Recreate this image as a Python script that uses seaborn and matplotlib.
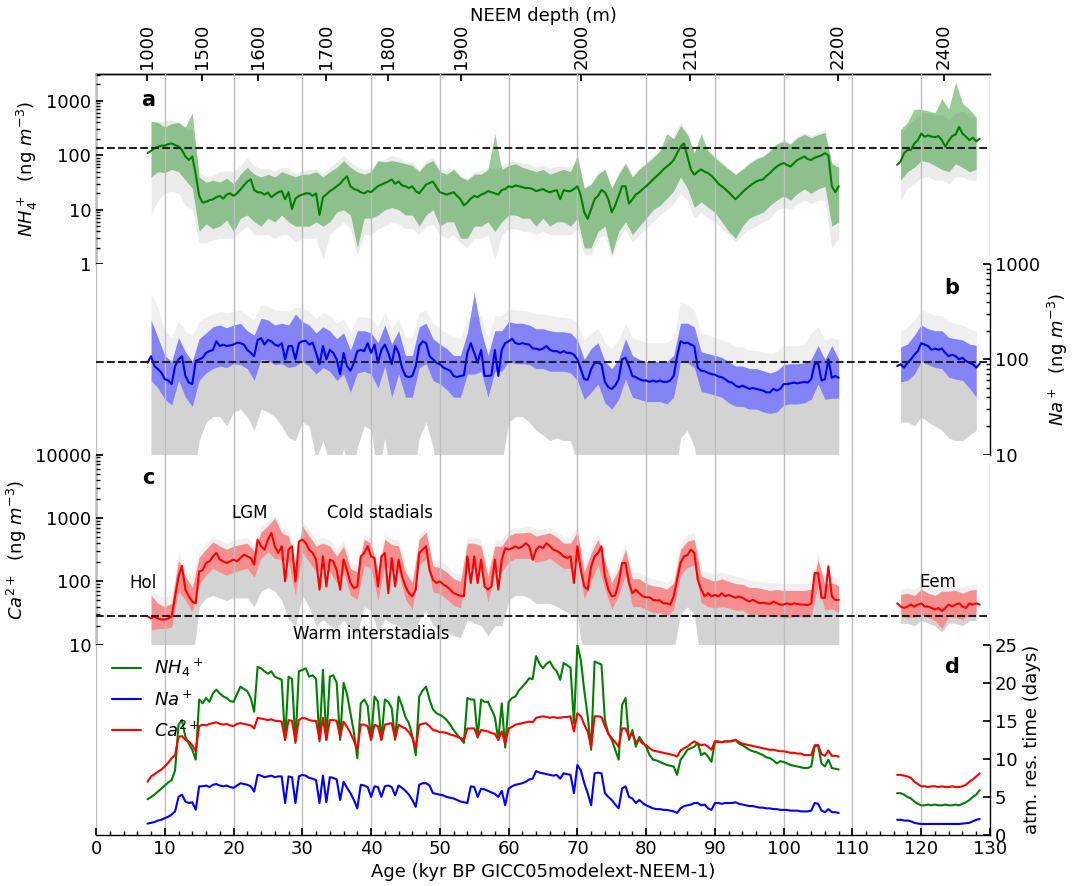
import numpy as np
import matplotlib
matplotlib.use("Agg")
import matplotlib.pyplot as plt
import matplotlib.ticker as mticker
import seaborn as sns

# ---------------- age grids (kyr BP) ----------------
AGE_GLACIAL = np.arange(7.5, 108.01, 0.5)      # 202 points for lines
AGE_EEM = np.arange(116.5, 128.51, 0.5)        # 25 points for lines
BAND_AGE_GLACIAL = np.arange(8, 108.01, 1.0)   # 101 points for envelopes
BAND_AGE_EEM = np.arange(117, 128.01, 1.0)     # 12 points for envelopes

DEPTH_LABELS = [1000, 1500, 1600, 1700, 1800, 1900, 2000, 2100, 2200, 2400]
DEPTH_AGES = [7.45, 15.45, 23.55, 33.4, 42.45, 53.05, 70.55, 86.4, 107.9, 123.3]

# ---------------- NH4+ (panel a) ----------------
nh4_glacial = [110, 120, 135, 144, 150, 150, 160, 165, 155, 145,
               125, 95, 82, 95, 45, 18, 13.5, 14, 15, 15.5,
               17, 18, 16, 19, 20, 18, 20, 23.5, 28, 33,
               36, 23, 21, 20.7, 19, 20.7, 17, 19, 21, 22,
               15.6, 21, 10.3, 16, 18, 19, 20, 20, 18, 20,
               8, 17, 19, 22, 24, 27, 30, 36, 41, 27,
               24, 23, 21, 20, 22, 21, 24, 27, 29, 31,
               33, 36, 30, 33, 28, 27, 25, 27, 22, 20,
               24, 29, 31, 33, 26, 21, 20, 19, 20, 21,
               18, 15.6, 12, 13.6, 16, 18, 17, 19, 20, 22,
               21, 20, 19, 23, 24, 27, 26, 28, 27, 26,
               25, 25, 24, 22, 23, 24, 22, 21, 22, 23,
               15.6, 23, 22, 22, 24, 27, 18, 9, 6.8, 10.3,
               15.6, 18, 23, 21, 15.6, 9, 12, 18, 27, 27,
               13, 15.6, 19, 21, 24, 27, 31, 36, 41, 47,
               55, 62, 70, 82, 109, 144, 165, 95, 55, 44,
               50, 55, 50, 47, 42, 36, 30, 27, 24, 21,
               18, 15.6, 18, 21, 24, 27, 30, 33, 35, 36,
               42, 47, 55, 62, 68, 72, 66, 62, 72, 82,
               88, 95, 85, 82, 90, 95, 100, 109, 100, 27,
               21, 27]
nh4_eem = [67, 77, 109, 125, 125, 165, 189, 250, 218, 232,
           220, 215, 225, 190, 144, 185, 225, 240, 330, 250,
           220, 189, 210, 180, 200]
nh4_lo_glacial = [40, 50, 48, 55, 50, 35, 25, 4, 5.5, 4.5,
                  5, 6.5, 4, 7, 8, 6, 5, 7, 6, 8,
                  6, 5, 5, 5, 6, 5, 6, 9, 10, 8,
                  2, 7, 7, 8, 10, 11, 10, 8, 8, 5,
                  8, 10, 5, 6, 6, 3, 3, 5, 5, 6,
                  4, 6, 8, 8, 7, 7, 5, 7, 5, 6,
                  6, 5, 7, 2, 2, 4, 5, 1.5, 4, 6,
                  3.5, 5, 7, 10, 12, 16, 22, 40, 25, 11,
                  14, 11, 9, 6, 4, 3, 5, 7, 8, 9,
                  12, 15, 18, 15, 20, 24, 20, 24, 27, 5,
                  6]
nh4_hi_glacial = [420, 400, 330, 380, 400, 330, 600, 40, 32, 35,
                  32, 38, 30, 45, 60, 45, 40, 45, 40, 50,
                  45, 40, 45, 45, 50, 40, 50, 60, 80, 60,
                  50, 45, 50, 80, 75, 80, 75, 70, 65, 50,
                  70, 80, 50, 45, 55, 40, 35, 45, 45, 55,
                  250, 55, 65, 70, 60, 55, 50, 55, 45, 50,
                  55, 50, 100, 25, 30, 45, 55, 25, 45, 70,
                  40, 55, 70, 90, 120, 250, 200, 350, 240, 110,
                  250, 120, 90, 70, 55, 45, 55, 70, 85, 95,
                  120, 160, 180, 160, 210, 240, 210, 240, 260, 70,
                  60]
nh4_lo_eem = [35, 50, 60, 80, 75, 65, 55, 50, 70, 60, 50, 55]
nh4_hi_eem = [300, 400, 700, 700, 650, 600, 1100, 700, 2200, 900, 700, 500]
nh4_glo_glacial = [8, 15, 20, 22, 20, 12, 10, 2.5, 2.5, 2.8,
                   3, 3, 3, 4, 5, 3.5, 3.5, 3.5, 3, 3.5,
                   3.5, 2.5, 3, 3, 3, 1.2, 3.5, 4.5, 6, 4.5,
                   1.5, 3.5, 3.5, 4.5, 5, 6, 5.5, 4.5, 4.5, 3.5,
                   5, 5.5, 3.5, 3, 3.5, 2.5, 2, 3, 3, 3.5,
                   1.2, 3.5, 4.5, 4.5, 4, 4, 3.5, 4, 3.5, 3.5,
                   3.5, 3.5, 4.5, 1.5, 1.5, 3, 3.5, 1.3, 3, 4.5,
                   2.5, 3.5, 4.5, 6, 8, 10, 13, 20, 15, 7,
                   9, 7, 6, 4.5, 3.5, 2.5, 3.5, 4.5, 5, 6,
                   7, 10, 11, 10, 13, 15, 13, 15, 15, 2,
                   3]
nh4_ghi_glacial = [400, 420, 420, 450, 400, 300, 300, 50, 40, 42,
                   50, 52, 50, 65, 90, 63, 57, 57, 52, 60,
                   58, 45, 52, 55, 55, 47, 60, 75, 100, 75,
                   63, 55, 58, 75, 85, 100, 90, 75, 75, 55,
                   80, 90, 58, 52, 58, 43, 38, 50, 52, 60,
                   55, 63, 75, 77, 72, 70, 60, 66, 58, 63,
                   63, 60, 75, 25, 28, 50, 58, 25, 50, 75,
                   43, 58, 75, 100, 130, 170, 230, 400, 260, 120,
                   150, 130, 100, 75, 58, 43, 58, 75, 90, 100,
                   130, 170, 200, 170, 230, 260, 230, 260, 300, 75,
                   75]
nh4_glo_eem = [15, 25, 30, 40, 40, 35, 35, 30, 40, 40, 35, 35]
nh4_ghi_eem = [250, 350, 450, 600, 600, 550, 550, 450, 600, 650, 500, 500]

# ---------------- Na+ (panel b) ----------------
na_glacial = [92, 108, 85, 79, 73, 62, 60, 55, 85, 100,
              108, 67, 57, 55, 96, 100, 104, 117, 122, 126,
              155, 138, 143, 138, 140, 143, 150, 148, 143, 126,
              117, 108, 160, 167, 143, 160, 155, 143, 138, 148,
              100, 138, 138, 100, 148, 155, 157, 143, 150, 117,
              89, 138, 100, 126, 117, 100, 70, 117, 85, 76,
              92, 122, 126, 122, 148, 117, 143, 92, 126, 143,
              117, 89, 138, 117, 82, 67, 65, 67, 85, 138,
              155, 148, 108, 100, 92, 89, 82, 79, 76, 67,
              65, 67, 68, 117, 148, 117, 92, 126, 67, 67,
              68, 126, 67, 126, 148, 155, 165, 148, 145, 148,
              145, 143, 130, 130, 126, 130, 138, 126, 122, 122,
              117, 122, 117, 117, 112, 100, 79, 62, 61, 79,
              92, 92, 89, 58, 51, 49, 53, 62, 100, 104,
              85, 67, 65, 62, 60, 60, 58, 60, 58, 60,
              58, 58, 60, 67, 108, 155, 148, 150, 143, 138,
              82, 76, 75, 72, 70, 69, 66, 65, 62, 58,
              57, 53, 51, 53, 51, 49, 50, 49, 48, 47,
              45, 45, 49, 47, 49, 55, 55, 56, 57, 56,
              57, 58, 57, 62, 89, 92, 60, 62, 100, 64,
              67, 64]
na_eem = [85, 89, 82, 92, 100, 112, 122, 148, 143, 138,
          126, 130, 126, 130, 117, 108, 112, 108, 100, 104,
          96, 92, 89, 82, 90]
na_lo_glacial = [60, 50, 38, 33, 60, 40, 32, 60, 72, 80,
                 85, 82, 90, 88, 80, 60, 100, 98, 88, 90,
                 82, 85, 95, 85, 70, 82, 75, 60, 70, 45,
                 72, 75, 70, 50, 85, 40, 70, 40, 40, 82,
                 90, 60, 55, 48, 40, 40, 70, 70, 75, 40,
                 75, 75, 95, 90, 90, 88, 80, 80, 75, 75,
                 75, 72, 60, 38, 45, 55, 35, 30, 38, 62,
                 40, 38, 36, 36, 36, 34, 40, 95, 92, 82,
                 46, 44, 42, 40, 35, 32, 32, 30, 30, 28,
                 27, 28, 33, 34, 34, 35, 38, 55, 38, 39,
                 39]
na_hi_glacial = [260, 170, 110, 95, 170, 120, 95, 165, 190, 220,
                 230, 215, 230, 240, 200, 180, 270, 260, 230, 240,
                 230, 300, 250, 230, 190, 220, 200, 165, 190, 125,
                 200, 200, 190, 150, 230, 145, 200, 110, 110, 220,
                 240, 165, 145, 130, 110, 110, 190, 500, 200, 110,
                 200, 200, 250, 240, 240, 230, 210, 210, 200, 195,
                 195, 190, 160, 100, 130, 150, 95, 80, 100, 165,
                 110, 100, 95, 95, 95, 95, 110, 240, 240, 220,
                 120, 115, 110, 105, 95, 85, 85, 80, 80, 76,
                 72, 76, 88, 90, 90, 92, 100, 140, 100, 140,
                 100]
na_lo_eem = [58, 60, 70, 95, 88, 82, 80, 65, 62, 60, 50, 40]
na_hi_eem = [135, 145, 180, 230, 210, 200, 200, 170, 165, 160, 145, 140]
na_glo_glacial = [5, 5, 5, 5, 5, 5, 5, 14, 22, 25,
                  25, 20, 28, 30, 25, 18, 30, 28, 25, 20,
                  15, 14, 22, 20, 9, 14, 8, 5, 12, 5,
                  12, 20, 18, 6, 15, 5, 10, 5, 5, 15,
                  22, 12, 5, 5, 5, 5, 8, 10, 8, 5,
                  5, 8, 22, 25, 25, 22, 18, 16, 14, 15,
                  14, 14, 8, 5, 5, 6, 5, 5, 5, 6,
                  5, 5, 5, 5, 5, 5, 5, 15, 18, 12,
                  5, 5, 5, 5, 5, 5, 5, 5, 5, 5,
                  5, 5, 5, 5, 5, 5, 5, 5, 5, 5,
                  5]
na_ghi_glacial = [500, 350, 200, 170, 250, 200, 180, 250, 280, 300,
                  320, 310, 320, 330, 290, 260, 380, 360, 330, 330,
                  320, 350, 350, 320, 270, 310, 290, 240, 270, 190,
                  280, 280, 270, 220, 320, 210, 270, 170, 170, 310,
                  330, 240, 210, 190, 170, 170, 270, 280, 290, 170,
                  290, 290, 340, 330, 330, 320, 300, 300, 290, 280,
                  280, 270, 240, 160, 190, 210, 150, 130, 160, 240,
                  170, 160, 150, 150, 150, 150, 170, 400, 380, 330,
                  190, 180, 170, 160, 150, 135, 135, 125, 125, 120,
                  115, 120, 140, 140, 140, 145, 190, 220, 160, 170,
                  160]
na_glo_eem = [22, 22, 20, 25, 22, 20, 18, 15, 14, 14, 16, 18]
na_ghi_eem = [200, 220, 260, 330, 310, 290, 290, 250, 240, 230, 210, 200]

# ---------------- Ca2+ (panel c) ----------------
ca_glacial = [28, 26, 28, 26, 25, 25, 26, 28, 58, 120,
              175, 74, 58, 48, 45, 143, 150, 195, 207, 247,
              280, 220, 207, 195, 207, 220, 207, 233, 263, 247,
              233, 184, 455, 357, 316, 455, 580, 357, 280, 357,
              100, 316, 357, 100, 425, 455, 400, 316, 280, 220,
              74, 247, 83, 220, 207, 150, 74, 220, 150, 94,
              78, 83, 247, 280, 357, 247, 233, 83, 247, 280,
              65, 233, 83, 220, 120, 83, 65, 58, 74, 280,
              316, 357, 150, 106, 94, 100, 89, 83, 74, 65,
              62, 59, 58, 247, 94, 247, 94, 220, 83, 74,
              83, 220, 74, 220, 333, 316, 333, 357, 333, 357,
              400, 357, 220, 316, 357, 333, 400, 357, 316, 300,
              280, 247, 233, 247, 94, 357, 150, 83, 74, 172,
              247, 280, 357, 120, 74, 58, 60, 94, 195, 195,
              94, 65, 74, 65, 58, 56, 56, 51, 50, 50,
              45, 45, 43, 58, 106, 195, 247, 260, 316, 280,
              106, 74, 58, 65, 58, 61, 58, 65, 58, 61,
              58, 55, 58, 55, 51, 48, 51, 48, 45, 46,
              45, 44, 48, 45, 43, 43, 45, 43, 45, 44,
              43, 43, 42, 45, 135, 135, 55, 55, 172, 58,
              51, 51]
ca_eem = [45, 40, 38, 40, 43, 40, 43, 45, 40, 40,
          38, 36, 38, 34, 38, 43, 40, 43, 45, 40,
          38, 45, 43, 45, 43]
ca_lo_glacial = [17, 18, 18, 19, 70, 50, 33, 90, 125, 160,
                 140, 125, 140, 150, 160, 115, 230, 290, 230, 220,
                 200, 60, 290, 200, 140, 160, 140, 95, 140, 60,
                 52, 180, 160, 50, 180, 150, 140, 52, 36, 180,
                 230, 68, 64, 52, 42, 38, 160, 160, 140, 47,
                 140, 140, 200, 230, 230, 230, 200, 210, 230, 190,
                 160, 160, 230, 52, 100, 180, 75, 36, 60, 125,
                 40, 40, 36, 32, 32, 28, 36, 125, 165, 180,
                 46, 40, 38, 40, 38, 35, 35, 30, 30, 29,
                 28, 28, 27, 27, 28, 27, 28, 85, 35, 37,
                 32]
ca_hi_glacial = [60, 45, 40, 45, 220, 120, 80, 240, 320, 420,
                 360, 320, 360, 380, 400, 300, 600, 750, 1000, 580,
                 520, 170, 750, 520, 360, 400, 360, 250, 360, 160,
                 140, 460, 400, 140, 460, 380, 360, 140, 95, 460,
                 600, 175, 165, 140, 110, 100, 400, 400, 360, 120,
                 360, 360, 520, 580, 580, 600, 520, 550, 580, 500,
                 400, 400, 600, 140, 280, 460, 200, 95, 155, 320,
                 110, 110, 92, 85, 82, 75, 95, 320, 430, 460,
                 120, 110, 100, 110, 100, 92, 90, 80, 80, 76,
                 72, 74, 72, 72, 72, 72, 75, 220, 90, 95,
                 85]
ca_lo_eem = [28, 27, 27, 30, 27, 24, 18, 28, 27, 25, 30, 30]
ca_hi_eem = [62, 65, 60, 75, 65, 60, 70, 70, 72, 65, 72, 75]
ca_glo_glacial = [5, 5, 5, 5, 5, 5, 5, 40, 55, 60,
                  55, 50, 55, 55, 55, 40, 70, 80, 70, 50,
                  25, 20, 60, 40, 20, 25, 20, 18, 25, 18,
                  15, 40, 35, 16, 25, 22, 20, 15, 14, 25,
                  35, 20, 18, 16, 14, 13, 25, 22, 20, 14,
                  20, 20, 50, 60, 60, 55, 45, 45, 45, 40,
                  35, 30, 30, 5, 5, 5, 5, 5, 5, 5,
                  5, 5, 5, 5, 5, 5, 8, 30, 40, 30,
                  5, 5, 5, 5, 5, 5, 5, 5, 5, 5,
                  5, 5, 5, 5, 5, 5, 5, 5, 5, 5,
                  5]
ca_ghi_glacial = [80, 60, 55, 60, 280, 160, 110, 300, 400, 500,
                  450, 400, 450, 470, 500, 380, 750, 900, 1100, 700,
                  650, 220, 900, 650, 450, 500, 450, 320, 450, 200,
                  180, 560, 500, 180, 560, 470, 450, 180, 120, 560,
                  700, 220, 210, 180, 140, 130, 500, 500, 450, 150,
                  450, 450, 650, 700, 700, 750, 650, 680, 700, 600,
                  500, 500, 750, 180, 350, 560, 250, 120, 200, 400,
                  140, 140, 120, 110, 105, 95, 120, 400, 550, 600,
                  150, 140, 130, 140, 130, 120, 115, 105, 100, 100,
                  95, 95, 92, 92, 92, 92, 100, 280, 120, 125,
                  110]
ca_glo_eem = [22, 22, 20, 24, 22, 20, 16, 22, 22, 20, 24, 24]
ca_ghi_eem = [75, 80, 75, 90, 80, 75, 85, 85, 88, 80, 88, 90]

# ---------------- residence times (panel d, days) ----------------
res_nh4_glacial = [4.7, 5.0, 5.3, 5.7, 6.1, 6.5, 6.9, 7.2, 8.5, 14.5,
                   15.1, 12.9, 12.0, 11.2, 9.9, 17.8, 17.3, 18.0, 17.5, 18.6,
                   19.1, 18.6, 18.2, 18.0, 17.6, 17.5, 18.5, 19.5, 19.2, 18.9,
                   18.0, 16.2, 22.1, 21.9, 21.5, 21.2, 21.5, 20.8, 20.6, 20.4,
                   12.5, 20.8, 20.5, 12.1, 21.5, 21.7, 21.9, 20.8, 21.0, 20.5,
                   12.3, 21.7, 12.5, 20.8, 21.0, 20.0, 12.5, 20.0, 18.5, 16.0,
                   13.5, 10.1, 17.3, 17.8, 17.0, 12.5, 18.2, 17.5, 12.5, 17.8,
                   17.5, 16.7, 12.5, 18.2, 17.0, 15.5, 14.7, 13.0, 10.5, 18.2,
                   19.0, 19.5, 17.8, 16.5, 16.0, 15.8, 15.5, 15.1, 14.5, 13.8,
                   13.2, 12.7, 12.1, 18.0, 17.8, 17.8, 12.8, 17.8, 17.5, 17.5,
                   16.5, 15.5, 12.5, 17.3, 11.5, 17.5, 18.0, 18.2, 19.0, 19.5,
                   20.0, 20.6, 20.5, 23.5, 22.5, 21.9, 22.5, 22.8, 22.0, 21.5,
                   20.4, 22.6, 22.3, 22.0, 14.7, 25.0, 23.0, 19.0, 15.6, 11.2,
                   22.8, 22.6, 22.4, 15.1, 13.3, 12.5, 11.2, 9.9, 17.1, 18.0,
                   12.5, 13.8, 11.6, 12.9, 12.2, 11.6, 10.5, 9.9, 9.8, 9.6,
                   9.4, 9.2, 9.1, 9.0, 7.9, 9.9, 10.5, 11.2, 11.4, 11.6,
                   12.1, 10.5, 10.8, 10.3, 9.6, 12.3, 12.3, 12.2, 12.3, 12.3,
                   12.3, 12.5, 12.0, 11.8, 11.5, 11.2, 11.0, 10.9, 10.7, 10.5,
                   10.2, 10.1, 9.8, 9.4, 9.7, 9.6, 9.4, 9.2, 9.1, 9.0,
                   8.9, 8.8, 8.8, 9.0, 11.6, 11.8, 9.4, 9.0, 9.9, 8.8,
                   8.7, 8.6]
res_nh4_eem = [5.5, 5.5, 5.3, 5.0, 4.8, 4.4, 4.1, 3.9, 3.9, 4.0,
               3.9, 4.0, 3.9, 3.9, 4.0, 3.9, 3.9, 4.0, 3.9, 4.1,
               4.3, 4.6, 5.0, 5.3, 5.9]
res_na_glacial = [1.5, 1.6, 1.7, 1.9, 2.0, 2.2, 2.4, 2.7, 3.1, 5.0,
                  5.3, 4.4, 4.2, 4.3, 3.3, 6.4, 6.4, 6.5, 6.3, 6.6,
                  6.7, 6.5, 6.4, 6.5, 6.3, 6.2, 6.5, 6.8, 6.7, 6.6,
                  6.4, 5.7, 7.9, 7.8, 7.6, 7.7, 7.8, 7.6, 7.7, 7.7,
                  4.2, 7.7, 7.6, 4.2, 7.7, 7.9, 7.8, 7.5, 7.4, 7.2,
                  4.2, 7.8, 4.3, 7.6, 7.5, 7.3, 4.6, 7.0, 6.2, 5.5,
                  4.6, 3.5, 6.6, 6.5, 6.3, 5.0, 6.4, 6.3, 5.0, 6.4,
                  6.5, 6.3, 5.2, 6.5, 6.2, 5.8, 5.3, 4.6, 3.7, 6.6,
                  6.8, 6.8, 6.5, 5.5, 5.4, 5.3, 5.2, 5.0, 4.9, 4.8,
                  4.6, 4.4, 4.3, 4.2, 6.4, 6.3, 5.0, 6.1, 6.0, 5.8,
                  5.6, 5.4, 5.0, 5.8, 3.9, 6.1, 6.4, 6.6, 6.7, 6.8,
                  7.0, 7.3, 7.4, 8.4, 8.2, 8.1, 8.0, 7.9, 7.8, 7.9,
                  7.4, 8.1, 8.0, 7.9, 5.5, 9.2, 8.5, 6.8, 5.5, 3.9,
                  8.1, 8.2, 8.1, 5.5, 5.0, 4.6, 4.0, 3.5, 6.1, 6.4,
                  5.0, 4.8, 4.2, 4.6, 4.2, 3.9, 3.7, 3.5, 3.4, 3.4,
                  3.3, 3.3, 3.2, 3.1, 2.9, 3.5, 3.8, 3.9, 4.0, 4.2,
                  4.2, 3.9, 4.0, 3.5, 3.3, 4.2, 4.2, 4.1, 4.2, 4.2,
                  4.2, 4.3, 4.1, 4.0, 3.9, 3.8, 3.8, 3.7, 3.6, 3.6,
                  3.5, 3.5, 3.4, 3.4, 3.3, 3.3, 3.3, 3.2, 3.2, 3.2,
                  3.1, 3.1, 3.1, 3.2, 4.2, 4.1, 3.2, 3.0, 3.4, 3.0,
                  3.0, 2.9]
res_na_eem = [2.0, 2.0, 1.9, 1.9, 1.8, 1.6, 1.5, 1.45, 1.45, 1.45,
              1.45, 1.45, 1.45, 1.45, 1.45, 1.45, 1.45, 1.45, 1.45, 1.5,
              1.55, 1.6, 1.8, 2.0, 2.1]
res_ca_glacial = [7.0, 7.7, 8.0, 8.3, 8.6, 9.0, 9.5, 10.1, 10.5, 12.9,
                  13.0, 12.5, 12.3, 11.8, 11.0, 14.3, 14.5, 14.4, 14.6, 14.7,
                  14.8, 14.6, 14.5, 14.6, 14.4, 14.3, 14.6, 14.7, 14.6, 14.5,
                  14.4, 14.0, 15.4, 15.3, 15.2, 15.1, 15.2, 15.0, 15.0, 14.9,
                  12.5, 15.1, 15.0, 12.3, 15.1, 15.4, 15.3, 15.1, 15.0, 15.0,
                  12.5, 15.4, 12.5, 15.1, 15.1, 15.0, 12.9, 14.9, 14.2, 13.4,
                  12.4, 11.2, 14.5, 14.5, 14.3, 12.5, 14.5, 14.3, 12.5, 14.5,
                  14.6, 14.7, 12.7, 14.5, 14.2, 14.0, 13.5, 12.8, 11.4, 14.5,
                  14.6, 14.7, 14.3, 13.8, 13.7, 13.5, 13.5, 13.4, 13.2, 13.1,
                  12.9, 12.7, 12.5, 14.0, 14.0, 14.0, 12.9, 13.8, 13.7, 13.6,
                  13.4, 13.3, 12.5, 13.6, 12.0, 14.0, 14.2, 14.5, 14.6, 14.7,
                  14.8, 14.9, 14.8, 15.4, 15.5, 15.6, 15.5, 15.4, 15.5, 15.4,
                  15.4, 15.5, 15.5, 15.6, 13.6, 16.0, 15.6, 14.5, 13.6, 11.6,
                  15.6, 15.6, 15.5, 14.3, 13.3, 12.7, 12.2, 11.6, 14.0, 14.0,
                  12.9, 13.3, 12.2, 12.5, 12.0, 11.8, 11.4, 11.1, 11.0, 10.9,
                  10.8, 10.7, 10.6, 10.5, 10.3, 11.1, 11.4, 11.6, 12.0, 12.3,
                  12.0, 11.8, 11.9, 11.6, 11.2, 12.3, 12.2, 12.2, 12.3, 12.3,
                  12.4, 12.5, 12.2, 12.0, 11.9, 11.8, 11.7, 11.6, 11.5, 11.4,
                  11.3, 11.2, 11.2, 11.1, 11.0, 11.0, 10.9, 10.8, 10.8, 10.7,
                  10.7, 10.5, 10.5, 10.5, 11.8, 11.8, 10.6, 10.4, 11.1, 10.4,
                  10.4, 10.3]
res_ca_eem = [7.9, 7.9, 7.8, 7.7, 7.5, 7.0, 6.7, 6.4, 6.4, 6.3,
              6.4, 6.4, 6.3, 6.4, 6.3, 6.3, 6.4, 6.3, 6.3, 6.4,
              6.6, 7.0, 7.3, 7.7, 8.1]

# reference (Holocene) levels for dashed lines
REF_NH4, REF_NA, REF_CA = 134, 93, 28

# ---------------- checks ----------------
def check(name, arr, n):
    if len(arr) != n:
        raise SystemExit(f"{name}: expected {n}, got {len(arr)}")

for nm in ["nh4_glacial", "na_glacial", "ca_glacial", "res_nh4_glacial", "res_na_glacial", "res_ca_glacial"]:
    check(nm, globals()[nm], len(AGE_GLACIAL))
for nm in ["nh4_eem", "na_eem", "ca_eem", "res_nh4_eem", "res_na_eem", "res_ca_eem"]:
    check(nm, globals()[nm], len(AGE_EEM))
for sp in ["nh4", "na", "ca"]:
    for k in ["lo", "hi", "glo", "ghi"]:
        check(f"{sp}_{k}_glacial", globals()[f"{sp}_{k}_glacial"], len(BAND_AGE_GLACIAL))
        check(f"{sp}_{k}_eem", globals()[f"{sp}_{k}_eem"], len(BAND_AGE_EEM))

# ---------------- style ----------------
sns.set_theme(style="white")
plt.rcParams.update({
    "font.family": ["DejaVu Sans"],
    "font.size": 13,
    "axes.edgecolor": "black",
    "axes.labelcolor": "black",
    "text.color": "black",
    "xtick.color": "black",
    "ytick.color": "black",
    "axes.linewidth": 1.0,
    "mathtext.fontset": "dejavusans",
})

W, H = 1073, 886
LEFT, RIGHT, TOP, BOTTOM = 96, 990, 74, 835
PH = (BOTTOM - TOP) / 4

fig = plt.figure(figsize=(W / 100, H / 100), dpi=100)
axes = []
for i in range(4):
    y0 = H - TOP - PH * (i + 1)
    axes.append(fig.add_axes([LEFT / W, y0 / H, (RIGHT - LEFT) / W, PH / H]))
ax_a, ax_b, ax_c, ax_d = axes

for ax in axes:
    ax.set_xlim(0, 130)
    ax.set_xticks(np.arange(0, 131, 10))
    ax.grid(True, axis="x", color="#bdbdbd", lw=1.0)
    ax.grid(False, axis="y")
    ax.set_axisbelow(False)
    for s in ax.spines.values():
        s.set_visible(False)
    ax.tick_params(axis="both", which="both", direction="in", labelsize=13)
    ax.tick_params(axis="both", which="major", length=5)
    ax.tick_params(axis="both", which="minor", length=3)
    ax.tick_params(axis="x", which="both", bottom=False, top=False, labelbottom=False)
    ax.tick_params(axis="y", which="both", left=False, right=False, labelleft=False, labelright=False)


def setup_log(ax, lo, hi):
    ax.set_yscale("log")
    ax.set_ylim(lo, hi)
    ax.yaxis.set_major_locator(mticker.LogLocator(base=10))
    ax.yaxis.set_minor_locator(mticker.LogLocator(base=10, subs=np.arange(2, 10)))
    ax.yaxis.set_major_formatter(mticker.FuncFormatter(lambda v, p: f"{v:g}"))
    ax.yaxis.set_minor_formatter(mticker.NullFormatter())


def draw_species(ax, sp, color, band_alpha, gray_alpha, solid_below):
    g = globals()
    for bx, suffix in ((BAND_AGE_GLACIAL, "glacial"), (BAND_AGE_EEM, "eem")):
        glo = np.asarray(g[f"{sp}_glo_{suffix}"], float)
        ghi = np.asarray(g[f"{sp}_ghi_{suffix}"], float)
        lo = np.asarray(g[f"{sp}_lo_{suffix}"], float)
        hi = np.asarray(g[f"{sp}_hi_{suffix}"], float)
        # faint outer envelope
        ax.fill_between(bx, glo, ghi, color="#d3d3d3", alpha=gray_alpha, lw=0, zorder=1)
        if solid_below:
            # the lower part of the ensemble spread is dense (solid gray)
            ax.fill_between(bx, glo, lo, where=glo < lo, interpolate=True,
                            color="#d3d3d3", alpha=1.0, lw=0, zorder=1.1)
        ax.fill_between(bx, lo, hi, color=color, alpha=band_alpha, lw=0, zorder=2)
    for x, suffix in ((AGE_GLACIAL, "glacial"), (AGE_EEM, "eem")):
        sns.lineplot(x=x, y=g[f"{sp}_{suffix}"], ax=ax, color=color, lw=1.5,
                     estimator=None, sort=False, zorder=3, legend=False)


def show_label(ax, axis, text, **kw):
    if axis == "x":
        ax.set_xlabel(text, **kw)
        ax.xaxis.label.set_visible(True)
    else:
        ax.set_ylabel(text, **kw)
        ax.yaxis.label.set_visible(True)


# ---- panel a ----
setup_log(ax_a, 1, 3100)
draw_species(ax_a, "nh4", "green", 0.4, 0.45, False)
ax_a.axhline(REF_NH4, color="#222222", ls="--", lw=1.5, zorder=4)
ax_a.spines["left"].set_visible(True)
ax_a.spines["top"].set_visible(True)
ax_a.tick_params(axis="y", which="both", left=True, labelleft=True)
show_label(ax_a, "y", r"$NH_4^+$  (ng $m^{-3}$)", fontsize=13)
sec = ax_a.secondary_xaxis("top")
sec.set_xticks(DEPTH_AGES)
sec.set_xticklabels([str(d) for d in DEPTH_LABELS], rotation=90, fontsize=13)
sec.tick_params(direction="in", length=5)
sec.set_xlabel("NEEM depth (m)", fontsize=13, labelpad=2)
ax_a.text(7.55, 1050, "a", fontsize=15, fontweight="bold", ha="center", va="center")

# ---- panel b ----
setup_log(ax_b, 10, 1000)
draw_species(ax_b, "na", "blue", 0.45, 0.35, True)
ax_b.axhline(REF_NA, color="#222222", ls="--", lw=1.5, zorder=4)
ax_b.spines["right"].set_visible(True)
ax_b.tick_params(axis="y", which="both", right=True, labelright=True)
ax_b.yaxis.set_label_position("right")
show_label(ax_b, "y", r"$Na^+$  (ng $m^{-3}$)", fontsize=13)
ax_b.text(124.4, 560, "b", fontsize=15, fontweight="bold", ha="center", va="center")

# ---- panel c ----
setup_log(ax_c, 10, 10000)
draw_species(ax_c, "ca", "red", 0.4, 0.35, True)
ax_c.axhline(REF_CA, color="#222222", ls="--", lw=1.5, zorder=4)
ax_c.spines["left"].set_visible(True)
ax_c.tick_params(axis="y", which="both", left=True, labelleft=True)
show_label(ax_c, "y", r"$Ca^{2+}$  (ng $m^{-3}$)", fontsize=13)
ax_c.text(7.55, 4300, "c", fontsize=15, fontweight="bold", ha="center", va="center")
ax_c.text(6.8, 94, "Hol", fontsize=12, ha="center", va="center")
ax_c.text(22.4, 1200, "LGM", fontsize=12, ha="center", va="center")
ax_c.text(41.3, 1200, "Cold stadials", fontsize=12, ha="center", va="center")
ax_c.text(40.0, 14.7, "Warm interstadials", fontsize=12, ha="center", va="center")
ax_c.text(122.4, 96, "Eem", fontsize=12, ha="center", va="center")

# ---- panel d ----
ax_d.set_ylim(0, 25)
series_d = [("res_nh4", "green", r"$NH_4{}^+$"),
            ("res_na", "blue", r"$Na^+$"),
            ("res_ca", "red", r"$Ca^{2+}$")]
g = globals()
for key, col, lab in series_d:
    sns.lineplot(x=AGE_GLACIAL, y=g[f"{key}_glacial"], ax=ax_d, color=col, lw=1.5,
                 estimator=None, sort=False, label=lab, zorder=3)
    sns.lineplot(x=AGE_EEM, y=g[f"{key}_eem"], ax=ax_d, color=col, lw=1.5,
                 estimator=None, sort=False, zorder=3, legend=False)
handles, labels = ax_d.get_legend_handles_labels()
ax_d.legend(handles[:3], labels[:3], loc="upper left", frameon=False, fontsize=13,
            bbox_to_anchor=(0.0, 1.02), handlelength=1.6, handletextpad=0.7,
            labelspacing=0.6)
ax_d.spines["bottom"].set_visible(True)
ax_d.spines["right"].set_visible(True)
ax_d.set_yticks(np.arange(0, 26, 5))
ax_d.tick_params(axis="y", which="both", right=True, labelright=True)
ax_d.yaxis.set_label_position("right")
show_label(ax_d, "y", "atm. res. time (days)", fontsize=13)
ax_d.xaxis.set_minor_locator(mticker.MultipleLocator(2))
ax_d.tick_params(axis="x", which="both", bottom=True, labelbottom=True)
show_label(ax_d, "x", "Age (kyr BP GICC05modelext-NEEM-1)", fontsize=13)
ax_d.text(124.4, 22.1, "d", fontsize=15, fontweight="bold", ha="center", va="center")

fig.savefig("out.png", dpi=100)
